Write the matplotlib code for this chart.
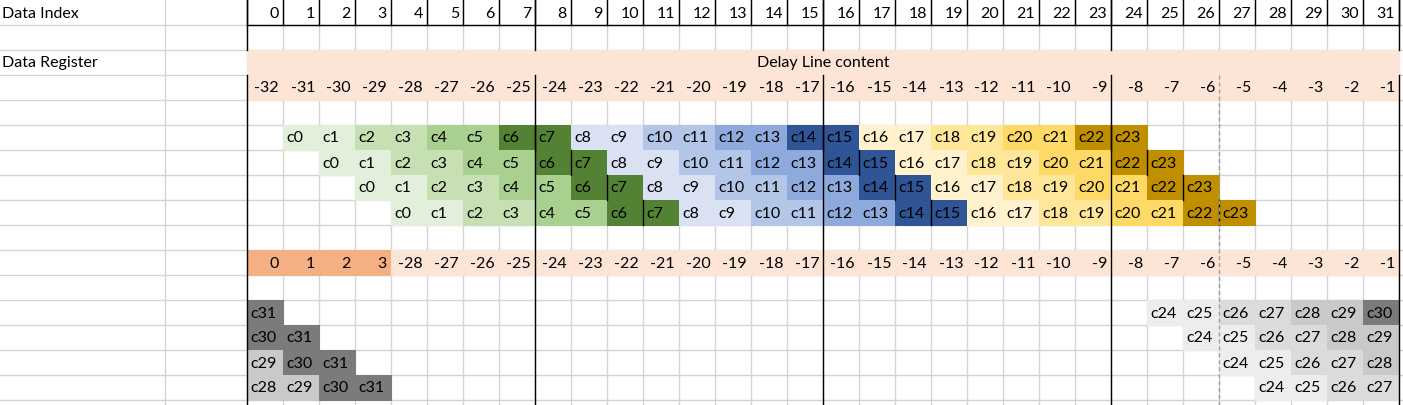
import matplotlib.pyplot as plt
from matplotlib.patches import Rectangle

plt.rcParams['font.family'] = ['Lato', 'DejaVu Sans']

# sheet data
data_index = list(range(32))
register_values = list(range(-32, 0))
lower_register = [0, 1, 2, 3] + list(range(-28, 0))
delays = [1, 2, 3, 4]            # shift of each delay row
coeffs = [f"c{i}" for i in range(32)]
row_labels = {0: "Data Index", 2: "Data Register"}
band_title = "Delay Line content"

# colour shades per group of 8 coefficients (pairs share a shade)
shades = [
    ['#E2EFDA', '#C6E0B4', '#A9D08E', '#548235'],
    ['#D9E1F2', '#B4C6E7', '#8EA9DB', '#2F5597'],
    ['#FFF2CC', '#FFE699', '#FFD966', '#BF8F00'],
    ['#EDEDED', '#DBDBDB', '#C9C9C9', '#7B7B7B'],
]
salmon = '#FCE4D6'
orange = '#F4B084'

W, H = 1403, 405
RH = 25
X0, CW = 247, 36
NC = 32

fig = plt.figure(figsize=(W / 100, H / 100), dpi=100)
ax = fig.add_axes([0, 0, 1, 1])
ax.set_xlim(0, W)
ax.set_ylim(H, 0)
ax.axis('off')

grid = '#D4D4D4'
# gridlines
for r in range(1, 17):
    ax.plot([0, W], [r * RH, r * RH], color=grid, lw=1, zorder=1)
for x in [165] + [X0 + CW * i for i in range(NC + 1)]:
    ax.plot([x, x], [0, H], color=grid, lw=1, zorder=1)


def cell(col, row, color):
    ax.add_patch(Rectangle((X0 + CW * col - 0.5, row * RH - 0.5), CW + 1, RH + 1,
                           facecolor=color, edgecolor='none', zorder=2))


def txt(col, row, s, align='right'):
    if align == 'right':
        x = X0 + CW * (col + 1) - 4
    else:
        x = X0 + CW * col + 3
    ax.text(x, row * RH + RH / 2 + 1, s, ha=align, va='center', fontsize=11.5, zorder=5)


# header row
for c, v in enumerate(data_index):
    txt(c, 0, str(v))

# delay line band
for c in range(NC):
    cell(c, 2, salmon)
    cell(c, 3, salmon)
    txt(c, 3, str(register_values[c]))
ax.text(X0 + CW * NC / 2, 2 * RH + RH / 2 + 1, band_title, ha='center', va='center',
        fontsize=11.5, zorder=5)

# lower register row
for c in range(NC):
    cell(c, 10, orange if lower_register[c] >= 0 else salmon)
    txt(c, 10, str(lower_register[c]))

# coefficient rows
for k, d in enumerate(delays):
    for j, name in enumerate(coeffs):
        col = (j + d) % NC
        row = (5 + k) if j + d < NC and j < 24 else (12 + k)
        color = shades[j // 8][(j % 8) // 2]
        cell(col, row, color)
        txt(col, row, name, align='left')
        if j in (7, 15, 23):
            x = X0 + CW * col
            ax.plot([x, x], [row * RH, (row + 1) * RH], color='black', lw=1, zorder=4)

# row labels
for r, s in row_labels.items():
    ax.text(2, r * RH + RH / 2 + 1, s, ha='left', va='center', fontsize=11.5, zorder=5)

# black borders
for i in range(NC + 1):
    x = X0 + CW * i
    ax.plot([x, x], [0, RH], color='black', lw=1, zorder=4)
ax.plot([X0, X0 + CW * NC], [RH, RH], color='black', lw=1, zorder=4)
for i in (0, 8, 16, 24, 32):
    x = X0 + CW * i
    ax.plot([x, x], [0, 2 * RH], color='black', lw=1, zorder=4)
    ax.plot([x, x], [3 * RH, H], color='black', lw=1, zorder=4)
x = X0 + CW * 27
ax.plot([x, x], [3 * RH, H], color='#A0A0A0', lw=1, ls=(0, (3, 2)), zorder=4)

fig.savefig('out.png', dpi=100)
